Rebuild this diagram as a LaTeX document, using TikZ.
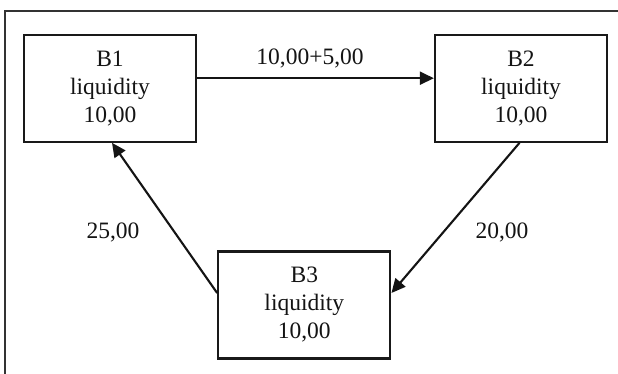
\documentclass[tikz,border=0pt]{standalone}
\usepackage{fontspec}
\setmainfont{Liberation Serif}
\usetikzlibrary{arrows.meta}
\begin{document}
\begin{tikzpicture}[x=1pt,y=-1pt,
  bankbox/.style={draw=black!90,line width=2.3pt,minimum width=172pt,minimum height=107pt,
    align=center,inner sep=0pt,font=\fontsize{23.5}{28}\selectfont,text=black!92},
  flow/.style={draw=black!92,line width=2.1pt,-{Triangle[length=14pt,width=13pt]}},
  amount/.style={font=\fontsize{23.5}{28}\selectfont,text=black!92,inner sep=0pt}]
\useasboundingbox (0,0) rectangle (618,374);
\fill[white] (0,0) rectangle (618,374);
\coordinate (fr) at (618,11);
\coordinate (fc) at (5,11);
\coordinate (fb) at (5,374);
\draw[black!80,line width=1.2pt] (fr) -- (fc) -- (fb);
\node[bankbox] (b1) at (110,88.2) {B1\\liquidity\\10,00};
\node[bankbox] (b2) at (521,88.2) {B2\\liquidity\\10,00};
\node[bankbox] (b3) at (304.3,305) {B3\\liquidity\\10,00};
\draw[flow] ([yshift=10pt]b1.east) -- ([yshift=10pt]b2.west);
\draw[flow] ([xshift=-1.5pt]b2.south) -- ([yshift=12pt]b3.east);
\draw[flow] ([yshift=12pt]b3.west) -- ([xshift=2pt]b1.south);
\node[amount] (l12) at (310,58) {10,00+5,00};
\node[amount] (l23) at (502,232) {20,00};
\node[amount] (l31) at (113,232) {25,00};
\end{tikzpicture}
\end{document}
